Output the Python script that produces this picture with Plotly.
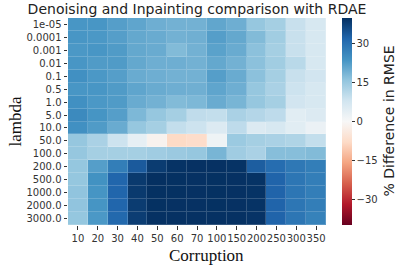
import plotly.graph_objects as go

corruption = ["10", "20", "30", "40", "50", "60", "70", "100", "150", "200", "250", "300", "350"]
lambdas = ["1e-05", "0.0001", "0.001", "0.01", "0.1", "0.5", "1.0", "5.0", "10.0",
           "50.0", "100.0", "200.0", "500.0", "1000.0", "2000.0", "3000.0"]

r_1e05 = [23.3, 23.3, 22.0, 21.0, 19.5, 19.0, 19.0, 20.8, 19.5, 15.4, 13.5, 9.1, 6.7]
r_1e04 = [23.3, 23.0, 22.0, 20.5, 20.0, 19.0, 19.3, 22.0, 20.5, 17.5, 14.0, 9.1, 6.7]
r_1e03 = [23.0, 23.3, 22.5, 20.5, 20.0, 17.5, 19.0, 21.5, 20.0, 16.5, 13.5, 9.1, 6.7]
r_1e02 = [23.3, 22.5, 22.5, 20.5, 19.5, 19.5, 19.0, 20.5, 19.0, 16.5, 14.0, 11.0, 6.7]
r_0_1 = [24.3, 23.0, 22.0, 20.0, 19.5, 19.0, 19.0, 22.0, 20.0, 16.5, 13.5, 9.1, 7.8]
r_0_5 = [23.3, 23.3, 22.5, 21.0, 20.0, 19.5, 19.3, 21.0, 19.5, 15.4, 12.9, 8.4, 6.7]
r_1 = [24.3, 23.0, 22.5, 20.0, 19.0, 17.5, 18.0, 20.0, 18.5, 15.4, 13.5, 7.8, 6.7]
r_5 = [25.4, 23.5, 22.0, 18.0, 15.4, 13.5, 10.1, 9.7, 12.9, 11.6, 10.3, 4.6, 5.6]
r_10 = [24.3, 22.5, 20.0, 15.4, 13.5, 9.7, 8.4, 5.6, 10.3, 5.6, 6.7, 4.6, 2.5]
r_50 = [15.4, 12.9, 8.4, 3.5, -1.5, -8.0, -7.3, 1.9, 14.7, 13.5, 12.9, 12.2, 9.7]
r_100 = [15.4, 13.5, 13.5, 13.5, 14.1, 14.8, 15.4, 18.5, 14.1, 12.9, 17.0, 17.0, 17.5]
r_200 = [15.5, 22.0, 27.5, 33.5, 38.0, 39.3, 39.5, 39.5, 39.3, 33.0, 30.5, 28.5, 27.5]
r_500 = [15.5, 24.0, 31.8, 38.3, 39.7, 39.6, 39.5, 39.6, 39.5, 39.3, 32.0, 29.0, 27.5]
r_1000 = [16.0, 23.5, 31.8, 38.3, 39.6, 39.6, 39.5, 39.6, 39.5, 39.3, 32.0, 29.0, 27.5]
r_2000 = [16.0, 23.5, 31.8, 38.0, 39.6, 39.5, 39.5, 39.6, 39.5, 39.3, 32.0, 29.0, 27.5]
r_3000 = [15.5, 23.0, 31.3, 37.8, 39.5, 39.5, 39.5, 39.5, 39.5, 39.2, 32.0, 29.0, 26.8]

z = [r_1e05, r_1e04, r_1e03, r_1e02, r_0_1, r_0_5, r_1, r_5, r_10,
     r_50, r_100, r_200, r_500, r_1000, r_2000, r_3000]

cbar_ticks = [-30, -15, 0, 15, 30]
zlim = 39.7

rdbu = ["rgb(103,0,31)", "rgb(178,24,43)", "rgb(214,96,77)", "rgb(244,165,130)",
        "rgb(253,219,199)", "rgb(247,247,247)", "rgb(209,229,240)", "rgb(146,197,222)",
        "rgb(67,147,195)", "rgb(33,102,172)", "rgb(5,48,97)"]
cscale = [[i / 10, c] for i, c in enumerate(rdbu)]

fig = go.Figure()
# base layer (lighter) showing through the thin cell gaps
fig.add_trace(go.Heatmap(z=z, x=corruption, y=lambdas, colorscale=cscale,
                         zmin=-zlim, zmax=zlim, showscale=False, opacity=0.82,
                         hoverinfo="skip"))
fig.add_trace(go.Heatmap(
    z=z, x=corruption, y=lambdas, colorscale=cscale, zmin=-zlim, zmax=zlim,
    xgap=1, ygap=1,
    colorbar=dict(
        x=(342 - 68) / 258, xanchor="left", xpad=0, y=0.5, yanchor="middle", ypad=0,
        len=1, lenmode="fraction", thickness=10, outlinewidth=0,
        tickvals=cbar_ticks, ticks="outside", ticklen=3, tickwidth=1, tickcolor="#333",
        tickfont=dict(family="DejaVu Sans", size=10, color="#333"),
    ),
))

fig.update_layout(
    width=395, height=266,
    margin=dict(l=68, r=69, t=17.5, b=40.5),
    paper_bgcolor="white", plot_bgcolor="white",
    title=dict(text="Denoising and Inpainting comparison with RDAE",
               x=0.5, xref="paper", xanchor="center",
               y=1 - 9 / 266, yref="container", yanchor="middle",
               font=dict(family="DejaVu Sans", size=14, color="#222")),
    xaxis=dict(type="category", showgrid=False, zeroline=False, showline=False,
               ticks="outside", ticklen=3.5, tickwidth=1, tickcolor="#333",
               tickfont=dict(family="DejaVu Sans", size=10, color="#333"),
               tickangle=0),
    yaxis=dict(type="category", autorange="reversed", showgrid=False, zeroline=False,
               showline=False, ticks="outside", ticklen=3.5, tickwidth=1, tickcolor="#333",
               tickfont=dict(family="DejaVu Sans", size=10, color="#333")),
    annotations=[
        dict(text="Corruption", xref="paper", yref="paper",
             x=(206.7 - 68) / 258, y=(225.5 - 256) / 208, xanchor="center", yanchor="middle",
             showarrow=False, font=dict(family="Liberation Serif", size=17, color="#111")),
        dict(text="lambda", xref="paper", yref="paper",
             x=(15 - 68) / 258, y=0.5, xanchor="center", yanchor="middle", textangle=-90,
             showarrow=False, font=dict(family="Liberation Serif", size=17, color="#111")),
        dict(text="% Difference in RMSE", xref="paper", yref="paper",
             x=(388 - 68) / 258, y=0.5, xanchor="center", yanchor="middle", textangle=-90,
             showarrow=False, font=dict(family="DejaVu Sans", size=14, color="#222")),
    ],
)

fig.write_html("out.html", config={"displayModeBar": False},
               post_script="document.body.style.margin='0px';document.body.style.overflow='hidden';")
